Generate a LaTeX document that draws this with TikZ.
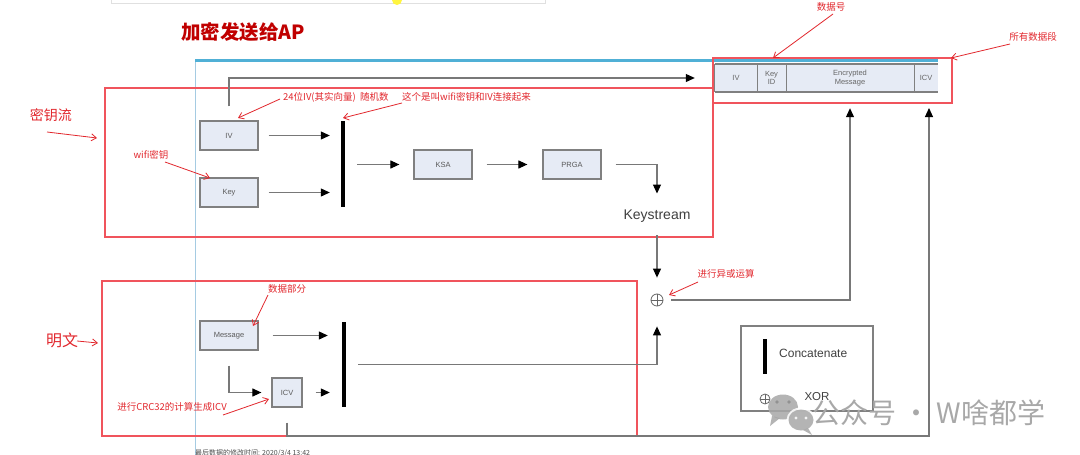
\documentclass[tikz,border=0pt]{standalone}
\usepackage{fontspec}
\setmainfont{Liberation Sans}
\newfontfamily\cjk{Noto Sans CJK SC}
\usetikzlibrary{arrows.meta,calc}
\definecolor{annred}{RGB}{226,40,46}
\definecolor{boxred}{RGB}{240,84,92}
\definecolor{titlered}{RGB}{192,0,0}
\definecolor{boxfill}{RGB}{230,235,245}
\definecolor{boxgray}{RGB}{128,128,128}
\definecolor{linegray}{RGB}{120,120,120}
\definecolor{blueline}{RGB}{80,176,214}
\definecolor{paleblue}{RGB}{165,203,226}
\definecolor{wmgray}{RGB}{168,168,168}
\begin{document}
\begin{tikzpicture}[x=1pt,y=-1pt,
 blk/.style={draw=boxgray, fill=boxfill, line width=1.2pt, minimum width=58pt, minimum height=29pt, inner sep=0pt, font=\fontsize{7.5}{9}\selectfont, text=black!65},
 garr/.style={draw=linegray, line width=1.1pt, -{Triangle[length=9pt,width=8pt,color=black]}},
 ann/.style={draw=annred, line width=0.8pt, -{Straight Barb[length=5pt,width=7pt]}},
 annlbl/.style={text=annred, font=\cjk\fontsize{9.5}{11}\selectfont, inner sep=0pt},
 redbox/.style={draw=boxred, line width=1.4pt},
 catbar/.style={fill=black, minimum width=4pt, inner sep=0pt},
 field/.style={fill=boxfill, inner sep=0pt, minimum height=28pt, font=\fontsize{7.5}{8.5}\selectfont, text=black!60, align=center},
 xorsym/.style={circle, draw=black!60, line width=0.8pt, minimum size=12pt, inner sep=0pt, path picture={\draw[black!60, line width=0.8pt] (path picture bounding box.north) -- (path picture bounding box.south) (path picture bounding box.west) -- (path picture bounding box.east);}}
]
\useasboundingbox (0,0) rectangle (1080,455);
\fill[white] (0,0) rectangle (1080,455);

% screenshot remnants
\draw[black!12, line width=1pt] (111,-5) -- (111,3) -- (545,3) -- (545,-5);
\fill[yellow!75] (397,0) circle (5);

% title
\node[font=\cjk\bfseries\fontsize{19.5}{22}\selectfont, text=titlered, inner sep=0pt] (title) at (243,32) {加密发送给AP};

% blue frame lines
\draw[paleblue, line width=1pt] (195,60) -- (195,460);
\draw[blueline, line width=3pt] (195,60) -- (938,60);

% frame fields
\node[field, minimum width=42pt] (fiv) at (736,78) {IV};
\node[field, minimum width=29pt] (fkid) at (771.5,78) {Key\\ID};
\node[field, minimum width=128pt] (fenc) at (850,78) {Encrypted\\Message};
\node[field, minimum width=24pt] (ficv) at (926,78) {ICV};
\draw[boxgray, line width=1.6pt] (fiv.north west) -- (ficv.north east);
\draw[boxgray, line width=1.6pt] (fiv.south west) -- (ficv.south east);
\draw[boxgray, line width=1.2pt] (fiv.north west) -- (fiv.south west)
  (fiv.north east) -- (fiv.south east)
  (fkid.north east) -- (fkid.south east)
  (fenc.north east) -- (fenc.south east);
\coordinate (ficvb) at (929,92);

% red boxes
\draw[redbox] (105,88) rectangle (713,237);
\draw[redbox] (102,281) rectangle (637,436);
\draw[redbox] (713,58) rectangle (952,103);

% key stream part
\node[blk] (iv) at (229,135.5) {IV};
\node[blk] (key) at (229,192.5) {Key};
\node[catbar, minimum height=86pt] (cat1) at (343,164) {};
\node[blk] (ksa) at (443,164.5) {KSA};
\node[blk] (prga) at (572,164.5) {PRGA};
\node[font=\fontsize{14}{16}\selectfont, text=black!75, inner sep=0pt] (ks) at (657,216) {Keystream};
\node[xorsym] (xor) at (657,300) {};

\draw[garr, shorten <=14pt, shorten >=20pt] (iv.north) |- (fiv.west);
\draw[garr, shorten <=10pt, shorten >=11pt] (iv.east) -- (iv.east -| cat1.west);
\draw[garr, shorten <=10pt, shorten >=11pt] (key.east) -- (key.east -| cat1.west);
\draw[garr, shorten <=12pt, shorten >=14pt] (cat1.east |- ksa.west) -- (ksa.west);
\draw[garr, shorten <=14pt, shorten >=15pt] (ksa.east) -- (prga.west);
\draw[garr, shorten <=14pt, shorten >=16pt] (prga.east) -| (ks.north);
\draw[garr, shorten <=13pt, shorten >=16pt] (ks.south) -- (xor.north);

% plaintext part
\node[blk] (msg) at (229,335.5) {Message};
\node[blk, minimum width=30pt] (icv) at (287,392.5) {ICV};
\node[catbar, minimum height=85pt] (cat2) at (344,364.5) {};
\coordinate (icvturn) at (287,436);

\draw[garr, shorten <=14pt, shorten >=14pt] (msg.east) -- (msg.east -| cat2.west);
\draw[garr, shorten <=15pt, shorten >=10pt] (msg.south) |- (icv.west);
\draw[garr, shorten <=13pt, shorten >=12pt] (icv.east) -- (icv.east -| cat2.west);
\draw[garr, shorten <=12pt, shorten >=20pt] (cat2.east) -| (xor.south);
\draw[garr, shorten <=8pt, shorten >=16pt] (xor.east) -| (fenc.south);
\draw[garr, shorten <=15pt, shorten >=16pt] (icv.south) -- (icvturn) -| (ficvb);

% legend
\node[draw=boxgray, line width=1.2pt, minimum width=132pt, minimum height=85pt, inner sep=0pt] (legend) at (807,368.5) {};
\node[catbar, minimum height=35pt] (lbar) at (765,356.5) {};
\node[anchor=west, font=\fontsize{12}{14}\selectfont, text=black!75, inner sep=0pt] (lcat) at (779,353) {Concatenate};
\node[xorsym, minimum size=10pt] (lxor) at (765,399) {};
\node[font=\fontsize{11.5}{13}\selectfont, text=black!75, inner sep=0pt] (lxt) at (817,397) {XOR};

% annotations
\node[annlbl] (t24) at (283,97) [anchor=west] {24位IV(其实向量)\ \ 随机数};
\draw[ann] (280,99) -- (238,118);
\node[annlbl] (tcat) at (402,97) [anchor=west] {这个是叫wifi密钥和IV连接起来};
\draw[ann] (402,103) -- (343,118);
\node[annlbl] (twifi) at (151,155) {wifi密钥};
\draw[ann] (165,162) -- (210,178);
\node[text=annred, font=\cjk\fontsize{14}{16}\selectfont, inner sep=0pt] (tks) at (51,115) {密钥流};
\draw[ann] (47,132) -- (97,138);
\node[text=annred, font=\cjk\fontsize{16}{18}\selectfont, inner sep=0pt] (tpt) at (62,340) {明文};
\draw[ann] (77,341) -- (98,343);
\node[annlbl] (tdata) at (287,289) {数据部分};
\draw[ann] (268,295) -- (253,326);
\node[annlbl] (tcrc) at (172,407) {进行CRC32的计算生成ICV};
\draw[ann] (223,415) -- (269,399);
\node[annlbl] (txor) at (726,274) {进行异或运算};
\draw[ann] (698,282) -- (669,295);
\node[annlbl] (tnum) at (831,7) {数据号};
\draw[ann] (833,14) -- (773,58);
\node[annlbl] (tall) at (1033,37) {所有数据段};
\draw[ann] (1010,44) -- (951,58);

% watermark
\begin{scope}[opacity=0.85]
\fill[wmgray] (783,407) ellipse (15 and 12.5);
\fill[wmgray] (772,416) -- (770,426) -- (780,418) -- cycle;
\fill[white] (801,420) ellipse (14.5 and 12.5);
\fill[wmgray] (801,420) ellipse (12.5 and 10.5);
\fill[wmgray] (808,428) -- (812,435) -- (803,430) -- cycle;
\fill[black!45] (777,402) circle (1.8) (789,402) circle (1.8);
\fill[white] (796,418) circle (1.6) (806,418) circle (1.6);
\end{scope}
\node[font=\cjk\fontsize{28}{30}\selectfont, text=wmgray, inner sep=0pt, anchor=west] (wm) at (812,413) {公众号 · W啥都学};

% footer (cut off)
\node[anchor=north west, font=\cjk\fontsize{7}{8}\selectfont, text=black!70, inner sep=0pt] (foot) at (195,449) {最后数据的修改时间: 2020/3/4 13:42};
\end{tikzpicture}
\end{document}
